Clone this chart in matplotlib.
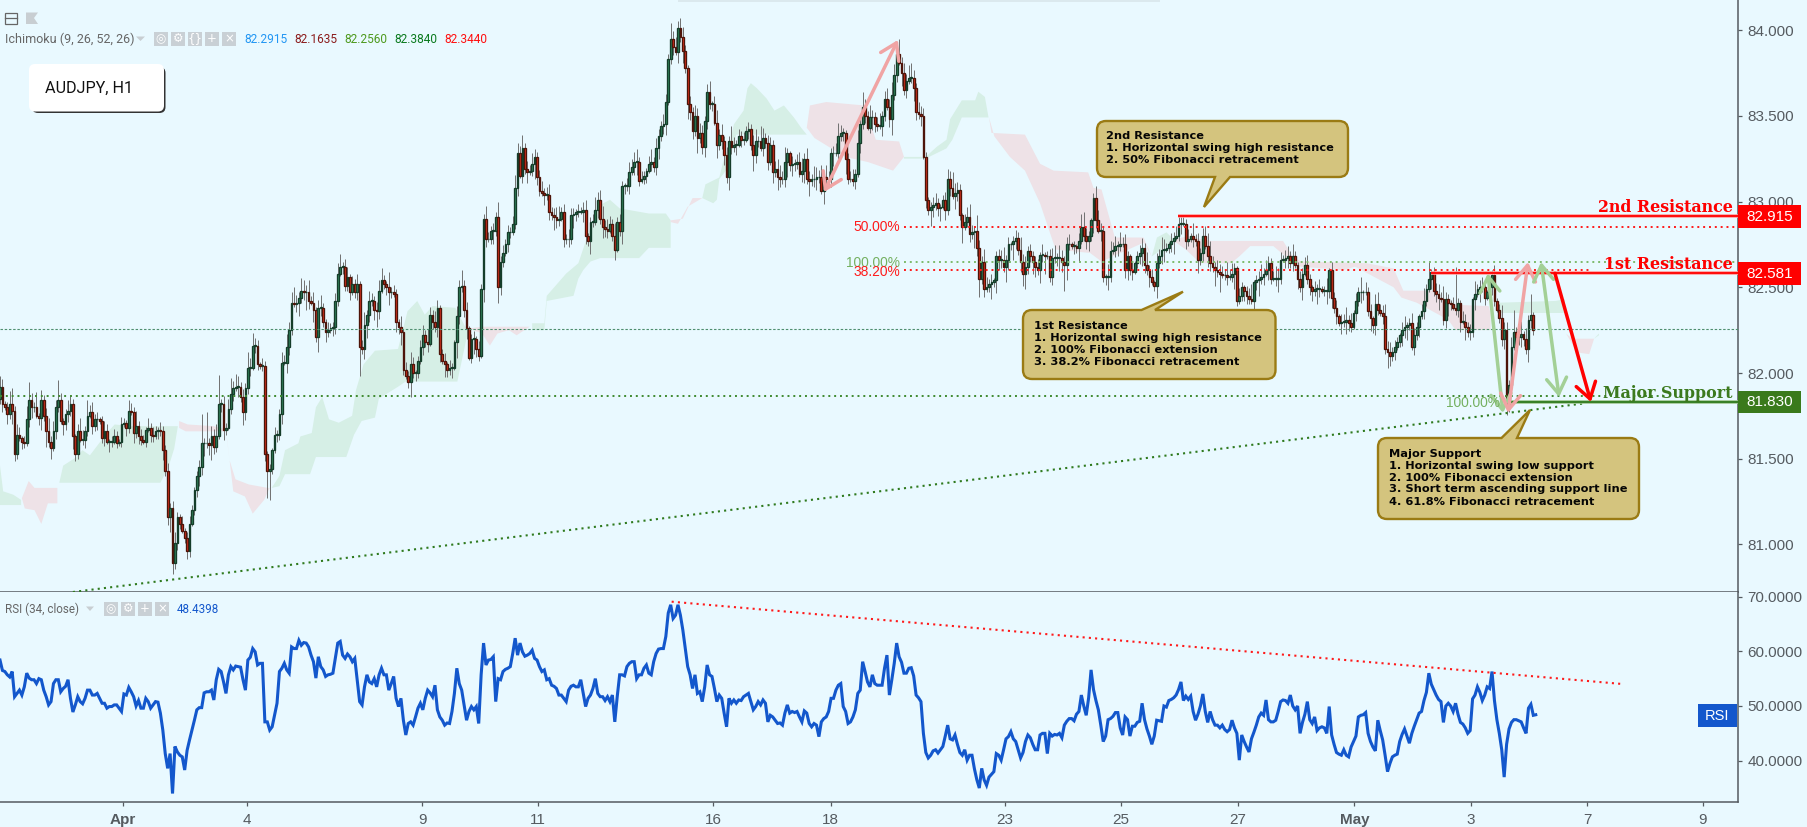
import matplotlib
matplotlib.use("Agg")
import matplotlib.pyplot as plt
from matplotlib.path import Path
from matplotlib.patches import PathPatch, Rectangle, FancyBboxPatch

closes = [
81.92,81.82,81.80,81.76,81.82,81.78,81.53,81.64,81.62,81.60,
81.59,81.73,81.84,81.80,81.80,81.75,81.74,81.84,81.75,81.66,
81.60,81.56,81.66,81.80,81.84,81.72,81.70,81.76,81.78,81.82,
81.63,81.53,81.66,81.61,81.61,81.66,81.75,81.77,81.69,81.73,
81.73,81.72,81.62,81.66,81.60,81.60,81.60,81.63,81.59,81.60,
81.70,81.71,81.68,81.78,81.77,81.65,81.69,81.63,81.61,81.60,
81.67,81.68,81.64,81.63,81.66,81.67,81.66,81.55,81.43,81.16,
81.21,80.89,81.01,81.16,81.12,81.08,81.04,80.96,81.12,81.20,
81.32,81.40,81.45,81.59,81.59,81.59,81.58,81.63,81.57,81.63,
81.82,81.82,81.67,81.68,81.79,81.88,81.91,81.92,81.92,81.86,
81.77,81.91,82.03,82.03,82.16,82.16,82.05,82.04,82.04,81.53,
81.43,81.44,81.55,81.64,81.64,81.76,82.06,82.06,82.15,82.25,
82.41,82.40,82.41,82.44,82.48,82.47,82.47,82.42,82.41,82.37,
82.21,82.38,82.38,82.30,82.24,82.25,82.26,82.27,82.42,82.58,
82.62,82.62,82.51,82.56,82.47,82.52,82.47,82.52,82.15,82.14,
82.28,82.34,82.42,82.42,82.37,82.36,82.48,82.54,82.52,82.50,
82.47,82.47,82.46,82.30,82.27,82.24,82.02,81.98,81.95,82.05,
82.00,82.00,82.07,82.15,82.22,82.18,82.17,82.34,82.30,82.27,
82.38,82.11,82.07,82.05,82.02,82.03,82.03,82.18,82.33,82.50,
82.51,82.37,82.26,82.09,82.20,82.20,82.14,82.10,82.49,82.90,
82.78,82.78,82.83,82.83,82.91,82.50,82.65,82.70,82.75,82.82,
82.82,82.87,83.08,83.28,83.15,83.31,83.19,83.17,83.18,83.22,
83.26,83.14,83.06,83.05,83.04,83.04,82.94,82.92,82.91,82.89,
82.90,82.94,82.78,82.78,82.78,82.92,82.93,82.94,82.94,82.94,
82.95,82.80,82.77,82.88,82.88,82.95,83.01,82.90,82.85,82.84,
82.83,82.87,82.80,82.72,82.88,82.83,83.09,83.09,83.09,83.17,
83.20,83.23,83.23,83.12,83.13,83.15,83.18,83.22,83.23,83.20,
83.31,83.38,83.44,83.45,83.58,83.83,83.95,83.90,83.87,84.01,
83.96,83.88,83.78,83.57,83.52,83.41,83.50,83.37,83.40,83.32,
83.47,83.64,83.57,83.57,83.46,83.33,83.39,83.35,83.27,83.14,
83.35,83.32,83.33,83.33,83.38,83.36,83.36,83.41,83.42,83.33,
83.27,83.35,83.35,83.31,83.37,83.34,83.23,83.33,83.17,83.19,
83.14,83.13,83.13,83.23,83.28,83.21,83.22,83.22,83.23,83.16,
83.18,83.25,83.13,83.12,83.13,83.13,83.14,83.14,83.06,83.14,
83.13,83.13,83.28,83.28,83.28,83.38,83.40,83.40,83.25,83.13,
83.13,83.12,83.16,83.34,83.45,83.55,83.50,83.43,83.49,83.49,
83.45,83.44,83.44,83.50,83.60,83.55,83.48,83.62,83.74,83.86,
83.81,83.75,83.65,83.70,83.72,83.72,83.66,83.52,83.51,83.50,
83.26,83.01,82.95,82.97,82.98,82.99,82.96,82.97,83.01,82.95,
83.13,83.08,83.03,83.05,83.07,82.92,82.85,82.88,82.91,82.81,
82.82,82.83,82.73,82.55,82.65,82.49,82.50,82.52,82.53,82.54,
82.68,82.66,82.66,82.62,82.66,82.75,82.75,82.77,82.79,82.72,
82.65,82.58,82.62,82.71,82.68,82.65,82.62,82.60,82.69,82.69,
82.68,82.68,82.56,82.67,82.67,82.67,82.67,82.65,82.63,82.75,
82.75,82.74,82.74,82.73,82.77,82.85,82.80,82.77,82.80,82.89,
83.02,82.89,82.83,82.83,82.56,82.56,82.56,82.71,82.72,82.74,
82.74,82.75,82.75,82.60,82.68,82.60,82.59,82.64,82.68,82.70,
82.73,82.63,82.60,82.56,82.53,82.51,82.64,82.68,82.72,82.72,
82.73,82.75,82.77,82.79,82.80,82.87,82.87,82.87,82.77,82.78,
82.80,82.78,82.77,82.66,82.70,82.80,82.74,82.68,82.64,82.62,
82.60,82.59,82.58,82.57,82.57,82.56,82.56,82.58,82.61,82.42,
82.45,82.50,82.48,82.45,82.43,82.42,82.53,82.54,82.55,82.56,
82.58,82.60,82.64,82.55,82.55,82.55,82.55,82.66,82.66,82.67,
82.68,82.64,82.68,82.63,82.55,82.50,82.58,82.63,82.55,82.50,
82.48,82.49,82.49,82.49,82.48,82.48,82.48,82.60,82.44,82.38,
82.33,82.29,82.30,82.30,82.31,82.29,82.27,82.35,82.42,82.47,
82.47,82.47,82.47,82.36,82.32,82.28,82.40,82.37,82.35,82.33,
82.14,82.12,82.10,82.12,82.15,82.18,82.22,82.25,82.27,82.28,
82.29,82.15,82.22,82.27,82.33,82.36,82.42,82.49,82.55,82.59,
82.48,82.46,82.44,82.43,82.31,82.43,82.41,82.40,82.38,82.37,
82.41,82.30,82.30,82.27,82.24,82.24,82.43,82.46,82.49,82.50,
82.50,82.44,82.47,82.50,82.57,82.42,82.37,82.32,82.20,82.25,
81.82,81.93,82.15,82.24,82.21,82.21,82.23,82.20,82.14,82.31,
82.34,82.25]

# wick sizes above / below the candle body, in hundredths of a yen
wick_up = [int(c) for c in """
4 3 1 2 5 6 2 4 3 1 2 5 7 3 2 6 1 4 2 3 5 2 4 3 8 3 1 2 4 3 2 1 3 5 4 2 6 3 4 2 3 1 2 4 3 1 2 3 2 1
3 2 1 4 3 2 6 2 3 2 1 4 2 3 2 1 3 2 2 3 2 3 4 2 1 3 1 2 3 2 1 2 3 4 2 3 2 4 3 5 4 2 3 2 4 6 3 5 4 2
3 2 6 4 5 3 2 1 3 2 1 2 1 3 2 2 4 3 5 3 4 6 3 2 5 4 3 5 2 4 1 3 5 2 1 3 2 2 3 4 5 2 3 4 1 3 2 4 1 3
5 2 4 3 2 3 4 5 2 1 6 2 3 2 1 4 1 3 2 5 3 1 2 3 4 2 5 3 2 4 3 1 2 3 1 3 2 1 4 3 6 2 3 1 2 3 1 3 2 2
5 3 2 3 2 6 2 3 2 3 2 3 5 4 3 5 2 3 2 4 3 2 3 4 2 3 4 2 3 4 5 2 3 2 4 3 2 1 3 2 3 4 1 2 3 5 3 4 5 3
4 3 2 5 2 3 2 1 3 4 3 4 5 2 3 2 1 3 5 2 4 3 2 4 3 2 6 3 4 3 5 4 2 1 3 2 4 3 4 3 2 3 4 1 3 5 2 4 2 3
2 6 3 2 3 2 3 2 3 2 4 5 2 6 4 2 3 3 2 3 4 5 3 6 2 1 3 2 3 4 5 2 4 3 2 5 4 3 5 2 5 3 2 3 4 5 3 2 1 2
3 4 2 5 2 6 3 2 5 3 2 3 5 2 3 4 3 5 4 2 6 2 4 3 5 6 3 2 4 3 3 2 1 2 3 4 2 1 2 3 4 3 6 4 3 2 1 3 4 5
3 2 6 3 2 5 4 2 3 1 2 3 4 5 2 3 1 2 3 2 5 3 4 2 3 2 2 3 1 4 1 2 3 4 5 2 5 3 2 3 4 1 2 1 3 5 6 3 2 1
2 3 4 3 2 1 5 4 3 4 2 5 3 4 2 1 3 1 2 3 4 2 5 2 3 1 4 3 5 4 2 1 3 2 4 3 6 3 2 4 1 5 2 3 2 3 4 5 6 3
2 4 3 3 2 5 3 4 2 1 3 2 1 2 3 6 1 2 3 5 2 4 3 2 3 5 4 3 2 3 4 2 5 2 1 3 2 3 4 2 1 3 2 4 1 2 5 1 3 2
3 1 3 3 5 2 4 1 3 2 6 1 4 2 3 1 4 5 2 3 5 3 4 2 3 2 1 3 4 1 2 4 3 2 1 3 5 2 3 1 2 3 4 2 5 3 2 1 3 6
2 1 4 3 2 3 1 5 2 3 4 2 1 3 2 4 1 2 5 3 3 2 4 1 2 3 5 1 4 2 3 1 2 5 3 1 2
""".split()]
wick_dn = [int(c) for c in """
2 3 1 4 2 5 3 2 1 3 2 1 3 4 2 1 3 5 2 6 2 4 1 3 2 1 4 2 3 2 5 3 2 1 2 3 2 1 3 2 4 1 2 3 1 4 2 1 2 1
2 1 3 2 1 4 2 3 2 1 2 1 3 2 1 3 2 4 2 3 6 5 2 3 2 1 2 3 2 1 2 3 4 3 5 2 4 6 3 2 1 3 4 2 1 2 3 1 4 2
5 3 2 3 1 3 2 1 2 3 2 3 2 1 3 2 4 1 6 3 2 1 3 5 2 3 7 3 1 5 2 6 3 2 4 2 1 3 3 2 1 3 2 2 3 1 2 3 1 2
4 5 3 2 4 6 3 1 2 3 5 2 1 4 3 5 2 1 4 6 2 3 2 1 3 2 3 1 3 2 4 3 1 5 3 2 4 1 6 3 2 3 4 1 2 6 3 2 1 5
3 1 2 5 2 6 3 2 1 3 2 1 2 3 1 3 2 4 1 2 6 3 2 1 4 2 3 2 5 3 2 1 3 2 3 2 5 3 2 1 4 3 2 5 2 1 3 2 4 3
3 1 2 4 1 2 5 3 2 3 1 3 5 2 1 2 3 1 3 2 3 4 2 3 4 1 2 3 1 4 2 5 2 6 3 3 2 6 2 3 4 3 2 3 1 5 2 3 4 2
5 3 2 4 1 3 2 1 3 2 6 3 2 1 3 2 3 1 4 2 5 3 2 3 6 2 4 3 2 1 3 5 2 6 2 3 4 2 1 5 3 2 3 5 1 4 2 3 6 2
1 2 3 1 4 2 3 1 2 5 3 2 1 4 2 1 3 6 2 3 1 5 2 3 1 2 5 3 2 4 1 3 2 6 4 2 3 5 1 4 2 3 1 5 3 2 6 1 2 3
2 6 3 7 2 3 1 2 1 2 5 4 3 2 6 4 2 6 3 2 4 5 6 3 2 5 4 2 5 3 7 1 2 3 2 3 5 4 3 6 2 1 3 2 5 1 2 3 4 2
5 3 1 4 2 3 5 2 1 3 4 2 1 3 4 2 3 1 2 3 5 3 2 4 1 2 5 2 3 5 1 2 3 5 1 2 4 1 3 2 1 3 2 5 2 3 1 4 3 2
6 2 7 1 2 3 1 2 6 2 1 2 4 3 2 1 4 3 6 2 3 1 4 2 1 3 5 2 1 3 4 2 3 1 4 2 5 1 2 3 4 2 6 3 1 2 5 3 4 2
3 1 4 2 5 3 2 1 3 2 4 3 1 2 5 3 4 2 1 3 2 6 4 2 3 1 2 4 3 5 2 1 3 2 4 1 3 2 1 4 2 3 5 1 2 3 5 2 1 2
3 4 1 5 2 3 2 4 1 5 2 3 1 4 3 2 1 2 3 4 1 3 2 1 2 3 4 3 2 5 3 2 3 2 1 3 2
""".split()]
long_highs = {90: 81.99, 83: 81.76, 85: 81.77, 280: 84.07, 451: 83.09, 486: 82.92, 588: 82.65, 599: 82.62, 623: 82.37, 630: 82.46}
long_lows = {110: 81.27, 111: 81.26, 148: 81.98, 118: 82.00, 168: 81.91, 71: 80.83, 438: 82.48, 408: 82.43, 320: 83.07, 620: 81.755}

rsi = [
58.4,56.5,56.3,55.7,55.3,56.3,51.7,52.3,52.9,52.0,53.5,56.0,55.1,54.8,54.8,54.1,55.0,54.8,52.9,51.7,
50.2,50.8,54.1,54.8,54.8,52.6,53.2,53.6,54.8,51.4,48.9,50.2,51.7,50.8,50.4,51.4,52.9,52.9,52.0,52.0,
52.3,51.4,50.5,50.5,49.6,49.9,49.9,50.2,50.2,49.6,49.0,52.2,52.0,53.4,52.6,51.7,50.0,51.0,49.6,49.6,
51.4,50.8,49.6,50.2,50.8,50.7,48.7,45.6,41.3,38.6,41.3,34.0,42.6,41.6,41.0,40.7,38.3,41.9,43.8,45.6,
47.4,49.3,49.7,49.7,52.4,52.6,52.6,52.9,51.1,54.8,56.7,56.3,54.4,52.3,55.7,57.2,56.6,57.3,57.2,57.1,
54.8,52.9,58.4,58.9,60.5,59.9,57.5,57.8,57.8,47.1,47.1,45.6,46.2,48.4,50.5,56.3,56.9,57.8,56.6,56.0,
60.8,60.5,60.5,62.0,61.1,61.6,61.5,60.8,59.3,58.1,55.1,59.0,57.2,56.6,55.4,55.7,55.8,56.0,58.7,61.5,
61.8,59.3,58.7,59.5,59.0,58.1,58.7,54.8,50.8,50.2,53.5,55.7,54.4,54.1,55.0,53.5,55.7,56.9,55.7,55.7,
52.9,54.1,55.4,51.4,49.9,51.4,47.4,44.7,46.8,47.1,46.5,48.0,49.6,50.5,49.3,51.4,52.9,52.4,51.7,53.8,
49.3,48.0,47.4,46.5,46.9,46.8,49.0,52.3,56.9,54.1,52.9,50.2,47.4,49.0,49.9,49.3,49.9,46.8,55.7,61.5,
57.5,58.4,58.5,59.0,50.8,55.0,54.8,56.3,56.7,56.9,57.2,59.6,62.4,59.3,61.5,59.9,59.1,59.3,59.6,60.2,
58.7,58.4,57.2,56.3,56.6,54.8,55.0,53.8,53.6,53.2,52.0,52.0,51.4,50.8,52.9,53.6,53.8,53.5,53.5,54.8,
52.3,49.9,51.4,52.0,53.2,55.0,52.3,51.7,51.7,51.0,51.7,50.8,52.0,47.1,51.7,55.7,55.7,55.5,57.2,57.8,
58.1,58.1,55.0,55.7,55.7,56.9,57.5,56.0,55.7,58.1,59.6,60.4,60.5,60.5,62.7,67.0,68.5,66.0,66.6,68.5,
66.6,63.9,60.5,57.2,55.7,53.2,55.7,52.3,52.6,50.8,53.5,57.5,55.7,55.4,53.2,50.8,52.0,51.4,48.7,46.2,
51.4,50.5,51.1,50.5,51.1,51.0,51.7,52.0,52.3,50.8,49.3,49.9,50.8,50.2,51.1,50.5,47.1,48.3,48.0,47.4,
46.8,46.9,46.5,48.7,50.2,48.7,49.0,48.8,49.0,48.0,47.1,49.1,48.7,46.8,46.2,46.8,46.5,44.4,47.1,47.7,
48.0,49.0,51.4,51.4,52.9,53.8,54.1,49.9,49.0,46.8,47.1,48.0,49.3,52.3,52.9,58.1,56.3,54.4,53.5,55.7,
54.1,53.8,53.8,53.8,56.9,59.3,52.0,54.8,57.8,61.5,59.0,58.0,56.0,56.0,56.9,57.0,55.5,52.0,51.5,50.8,
45.0,41.5,40.5,41.0,41.8,42.0,41.4,42.0,42.6,44.5,46.5,44.0,43.8,44.7,43.0,41.5,41.0,42.0,40.1,41.0,
41.0,38.5,36.5,35.0,38.6,36.5,35.5,37.0,37.5,38.0,41.3,41.0,40.1,42.0,44.0,44.4,45.3,44.0,43.5,42.0,
40.5,41.5,43.5,44.7,44.2,43.0,42.0,42.0,44.7,45.0,45.0,41.3,45.0,44.5,44.8,44.7,45.0,44.2,46.5,47.2,
47.7,47.7,47.3,48.5,49.0,52.0,50.0,48.3,51.5,56.6,53.0,51.0,49.3,46.5,43.5,44.5,47.5,47.7,48.1,48.8,
48.8,46.0,44.7,48.0,47.5,44.5,46.3,46.3,47.0,47.2,50.5,47.5,45.8,44.5,43.0,44.5,47.4,47.3,47.2,50.0,
49.8,51.0,51.2,51.5,52.0,53.0,54.4,51.0,51.8,51.2,51.8,49.0,47.4,48.5,50.0,52.2,49.0,47.0,49.0,47.5,
46.5,46.5,46.0,46.5,45.7,45.3,45.7,47.4,46.0,45.0,40.1,44.7,43.5,42.5,41.6,44.0,45.2,46.5,48.0,48.7,
48.3,51.1,47.5,47.1,47.1,47.4,49.0,50.8,51.1,51.0,50.5,52.0,50.0,49.3,50.0,45.0,47.0,48.5,50.8,47.5,
46.8,48.0,45.5,46.0,46.2,46.0,45.0,49.9,44.7,43.0,41.5,41.2,41.0,42.0,41.0,40.7,42.5,43.5,44.5,48.0,
48.3,48.4,48.8,45.0,43.5,42.5,41.8,47.4,45.5,43.8,41.0,38.0,39.5,40.7,41.0,41.2,43.5,44.8,45.8,44.5,
43.2,45.0,46.3,47.5,48.7,49.0,51.0,52.5,56.0,54.0,53.0,52.0,51.2,50.8,47.0,50.0,50.5,50.0,49.0,50.5,
48.5,47.0,46.7,46.0,45.0,45.5,51.3,52.0,53.5,52.5,51.0,52.0,53.5,53.2,56.3,51.0,47.5,45.0,42.0,37.0,
43.0,45.8,47.0,47.5,47.5,47.3,47.1,46.0,45.0,49.6,50.3,48.3,48.4]

price_ticks = [81, 81.5, 82, 82.5, 83, 83.5, 84]
rsi_ticks = [40, 50, 60, 70]
date_ticks = [50.6, 101.6, 173.7, 221.4, 293.6, 341.8, 413.6, 461.3, 509.3, 557.4, 605.3, 653.1, 700.7]
date_labels = ["Apr", "4", "9", "11", "16", "18", "23", "25", "27", "May", "3", "7", "9"]

# Kumo: (kind, bar positions, upper edge, bar positions, lower edge)
kumo = [
 ("g", [0,1.3,5.5,8.7], [81.46,81.31,81.29,81.26], [0,8.7], [81.23,81.23]),
 ("r", [9,11.8,14.2,23.6], [81.27,81.37,81.33,81.33], [9,10.2,14.2,17,19.7,23.6], [81.27,81.21,81.20,81.12,81.24,81.24]),
 ("g", [24.4,26,31.5,33.9,37,44,47.2,53.5,66,73.2], [81.36,81.46,81.51,81.55,81.52,81.65,81.70,81.69,81.69,81.69],
       [24.4,66,69.3,71.7,73.2], [81.36,81.36,81.45,81.56,81.69]),
 ("r", [73.7,77.2,88,93,94.5,96.9,102.4,110.2], [81.72,81.70,81.69,81.67,81.49,81.38,81.35,81.33],
       [73.7,76.4,93,94.5,96,100.8,104,108.7,111], [81.68,81.66,81.66,81.49,81.31,81.28,81.18,81.26,81.33]),
 ("g", [111.8,115,117.3,122.8,123.6,128.3,130,132.6,135.4,139.4,144.9,146.5,149.6,154.3,163.8,167.7,171.7,174.8,178,187.4,191.8],
       [81.33,81.40,81.55,81.59,81.63,81.65,81.80,81.86,81.73,81.71,81.75,81.90,82.05,82.13,82.14,82.36,82.42,82.34,82.39,82.38,82.26],
       [111.8,115,117.3,127.6,130,142.5,145.7,148.8,154.3,155.9,163.8,166.9,188.2,191.8,192.9],
       [81.33,81.34,81.41,81.41,81.51,81.51,81.64,81.72,81.74,81.85,81.92,81.95,81.95,82.19,82.26]),
 ("r", [192.9,198.4,218], [82.26,82.27,82.27], [192.9,198.4,201.6,204.7,209.4,212.6,218], [82.26,82.23,82.16,82.23,82.25,82.22,82.27]),
 ("g", [219,224,225,233,238,243,247,251,255,267,274,276], [82.29,82.29,82.45,82.58,82.64,82.85,82.98,83.01,82.96,82.93,82.93,82.89],
       [219,224,225,236,238,240,243,247,263,267,276], [82.25,82.25,82.42,82.45,82.55,82.60,82.65,82.67,82.67,82.73,82.73]),
 ("r", [276,281,285,289], [82.89,82.90,83.02,83.02], [276,279,283,289], [82.88,82.87,82.97,83.02]),
 ("g", [289,290.3,296,297.4,300.5,302,306,307.6,309,311.5,315.5,318.7,322.6,326.7,329.7,332],
       [83.02,83.10,83.14,83.22,83.35,83.45,83.53,83.66,83.69,83.66,83.60,83.53,83.56,83.49,83.43,83.39],
       [289,293.5,295,296,299.8,302,303,332], [83.02,82.99,83.01,83.13,83.20,83.34,83.39,83.39]),
 ("r", [332,333.3,340,355.7,360.4,370,372], [83.43,83.56,83.58,83.56,83.36,83.35,83.26],
       [332,335.2,347.8,357.2,367.5,372], [83.43,83.37,83.26,83.23,83.18,83.26]),
 ("g", [372,380.9,385.6,389.5,391,395.8,401.3,402.6,405.3,406.8], [83.26,83.26,83.32,83.36,83.48,83.59,83.59,83.64,83.61,83.49],
       [372,380.9,389.5,391.9,395.8,406.8], [83.25,83.25,83.31,83.36,83.49,83.49]),
 ("r", [407,408,421.8,428,433.6,447.8,450,453.3,458.8,470.6,474], [83.49,83.40,83.39,83.22,83.18,83.17,83.08,83.07,82.79,82.79,82.68],
       [407,409.2,415.6,421.8,428,434.4,448.6,453.3,470.6,474], [83.49,83.38,83.26,83.18,82.99,82.72,82.70,82.65,82.76,82.68]),
 ("g", [474,476.1,480,483], [82.68,82.79,82.82,82.78], [474,483], [82.68,82.77]),
 ("r", [483,490,494,498.6,528,532,535.3,562.4,573.5,577.5,589.5,595,612.6,613.4],
       [82.78,82.80,82.78,82.77,82.77,82.68,82.65,82.64,82.61,82.48,82.48,82.40,82.39,82.35],
       [483,488,494,506.6,510,514.5,524,529,535.3,552.8,557.6,573.5,576.7,583,596,599,613.4],
       [82.77,82.72,82.64,82.64,82.68,82.74,82.74,82.68,82.62,82.60,82.62,82.50,82.44,82.41,82.31,82.25,82.25]),
 ("g", [617,640,644], [82.41,82.42,82.43], [617,644], [82.35,82.35]),
 ("r", [644.5,647,656], [82.23,82.20,82.20], [644.5,649,654,656], [82.23,82.12,82.11,82.20]),
 ("g", [656,658], [82.20,82.23], [656,658], [82.20,82.22]),
]

BG = "#e9f9ff"
GREY = "#555b60"
FW, FH = 1808, 827
AX_R, MAIN_B, RSI_B = 1738, 592, 802
plt.rcParams["font.family"] = ["Liberation Sans", "DejaVu Sans"]
fig = plt.figure(figsize=(FW/100, FH/100), dpi=100, facecolor=BG)
ax = fig.add_axes([0, 1-MAIN_B/FH, AX_R/FW, MAIN_B/FH], facecolor=BG)
ar = fig.add_axes([0, 1-RSI_B/FH, AX_R/FW, (RSI_B-MAIN_B)/FH], facecolor=BG)
ov = fig.add_axes([0, 0, 1, 1], facecolor="none", zorder=20)
ov.set_xlim(0, FW); ov.set_ylim(FH, 0); ov.axis("off")

XMAX = AX_R/2.43
ax.set_xlim(0, XMAX); ax.set_ylim(80.723, 84.175)
ar.set_xlim(0, XMAX); ar.set_ylim(32.45, 70.84)

# cloud
for kind, xt, yt, xb, yb in kumo:
    col = "#d6efe6" if kind == "g" else "#eee2e7"
    ax.fill(list(xt)+list(xb)[::-1], list(yt)+list(yb)[::-1], color=col, lw=0, zorder=1)

# candles
n = len(closes)
for i in range(n):
    c = closes[i]
    o = closes[i-1] if i else 81.85
    up = c >= o
    hi = max(o, c) + wick_up[i % len(wick_up)]*0.015
    lo = min(o, c) - wick_dn[i % len(wick_dn)]*0.015
    hi = long_highs.get(i, hi); lo = long_lows.get(i, lo)
    ax.vlines(i, lo, hi, color="#707070", lw=0.7, zorder=2)
    ax.bar(i, max(abs(c-o), 0.004), bottom=min(o, c), width=0.72,
           color="#35875f" if up else "#e2341f", edgecolor="#153d2a" if up else "#4d1409",
           linewidth=0.95, zorder=3)

DOT = (0, (1, 2))
xp = lambda px: px/2.43
ax.hlines(82.255, 0, XMAX, color="#4f8f6f", lw=0.8, ls=(0, (2.2, 1.6)), zorder=4)
ax.hlines(81.864, 0, xp(1665), color="#3f8a30", lw=1.4, ls=DOT, zorder=4)
ax.plot([30, 652], [80.723, 81.823], color="#2f7a1e", lw=1.5, ls=DOT, zorder=4)
ax.hlines(82.853, 372, XMAX, color="#ff1a1a", lw=1.4, ls=DOT, zorder=4)
ax.hlines(82.645, 372, XMAX, color="#7ebb6c", lw=1.4, ls=DOT, zorder=4)
ax.hlines(82.600, 372, xp(1590), color="#ff1a1a", lw=1.4, ls=DOT, zorder=4)
for y0, x0, col, halo in [(82.915, 484.8, "#ff0000", "#ff9a9a"), (82.581, 589, "#ff0000", "#ff9a9a"), (81.830, 620.6, "#2f7a1e", "#9bc48f")]:
    ax.hlines(y0, x0, XMAX, color=halo, lw=2.6, zorder=5)
    ax.hlines(y0, x0, XMAX, color=col, lw=1.3, zorder=6)

# arrows
def arrow(p0, p1, col, style):
    ax.annotate("", xy=p1, xytext=p0, zorder=7, annotation_clip=False,
                arrowprops=dict(arrowstyle=f"{style},head_length=0.7,head_width=0.45", color=col, lw=2.5,
                                shrinkA=0, shrinkB=0, mutation_scale=16))
arrow((339.1, 83.055), (369.5, 83.942), "#f0a4a4", "<->")
arrow((612.3, 82.581), (618.5, 81.767), "#a3d096", "<->")
arrow((620.6, 81.767), (628.8, 82.647), "#f0a4a4", "<->")
arrow((634.2, 82.647), (641.6, 81.860), "#a3d096", "<->")
arrow((639.9, 82.581), (654.7, 81.831), "#ff0000", "->")

# RSI
ar.plot(range(len(rsi)), rsi, color="#1357cc", lw=2.2, solid_joinstyle="miter", zorder=3)
ar.plot([276.4, 668.2], [69.07, 54.0], color="#ff1a1a", lw=1.5, ls=DOT, zorder=4)

for a in (ax, ar):
    a.yaxis.tick_right()
    for s in ("left", "top"):
        a.spines[s].set_visible(False)
    for s in ("right", "bottom"):
        a.spines[s].set_color(GREY); a.spines[s].set_linewidth(1.1)
    a.tick_params(axis="y", length=3.2, width=0.9, color=GREY, labelcolor=GREY, labelsize=11, pad=3.4)
ax.set_yticks(price_ticks, [f"{v:.3f}" for v in price_ticks])
ax.set_xticks([])
ar.set_yticks(rsi_ticks, [f"{v:.4f}" for v in rsi_ticks])
ar.set_xticks(date_ticks, date_labels)
ar.tick_params(axis="x", length=3.2, width=0.9, color=GREY, labelcolor=GREY, labelsize=11, pad=4.5)
for t in ar.get_xticklabels():
    if t.get_text() in ("Apr", "May"):
        t.set_fontweight("bold")

# callouts, in picture pixels
def callout(x0, y0, x1, y1, base_a, base_b, tip, side):
    r = 9
    V, C = [], []
    def mv(p): V.append(p); C.append(Path.MOVETO)
    def ln(p): V.append(p); C.append(Path.LINETO)
    def cv(c, p): V.extend([c, p]); C.extend([Path.CURVE3, Path.CURVE3])
    mv((x0+r, y0))
    if side == "top":
        ln((base_a, y0)); ln(tip); ln((base_b, y0))
    ln((x1-r, y0)); cv((x1, y0), (x1, y0+r)); ln((x1, y1-r)); cv((x1, y1), (x1-r, y1))
    if side == "bottom":
        ln((base_b, y1)); ln(tip); ln((base_a, y1))
    ln((x0+r, y1)); cv((x0, y1), (x0, y1-r)); ln((x0, y0+r)); cv((x0, y0), (x0+r, y0))
    C.append(Path.CLOSEPOLY); V.append((x0+r, y0))
    ov.add_patch(PathPatch(Path(V, C), fc="#d4c47e", ec="#9a7b14", lw=1.7, zorder=5))

TXT = dict(family="DejaVu Sans", fontweight="bold", fontsize=8.2, color="#050505", va="center", ha="left", zorder=6)
callout(1097, 121, 1348, 177, 1215, 1230, (1204, 207), "bottom")
for y, s in zip([136, 148.3, 160.3], ["2nd Resistance", "1. Horizontal swing high resistance", "2. 50% Fibonacci retracement"]):
    ov.text(1106, y, s, **TXT)
callout(1023, 310, 1275.5, 379, 1141.5, 1155, (1183, 291.7), "top")
for y, s in zip([325.7, 337.7, 349.7, 361.7], ["1st Resistance", "1. Horizontal swing high resistance", "2. 100% Fibonacci extension", "3. 38.2% Fibonacci retracement"]):
    ov.text(1033.6, y, s, **TXT)
callout(1378, 438, 1639, 519, 1501.5, 1517, (1530, 410), "top")
for y, s in zip([453.7, 465.7, 477.7, 489.3, 501.7], ["Major Support", "1. Horizontal swing low support", "2. 100% Fibonacci extension", "3. Short term ascending support line", "4. 61.8% Fibonacci retracement"]):
    ov.text(1389, y, s, **TXT)

# fib labels
for y, s, col, xr in [(227, "50.00%", "#ff1a1a", 900.4), (263, "100.00%", "#74b060", 900.4),
                      (271.7, "38.20%", "#ff1a1a", 900.4), (403, "100.00%", "#74b060", 1500)]:
    ov.text(xr, y, s, color=col, fontsize=9.9, ha="right", va="center", zorder=4)

# level labels
for y, s, col in [(207, "2nd Resistance", "#ff0000"), (264.7, "1st Resistance", "#ff0000"), (393, "Major Support", "#3c7a1e")]:
    ov.text(1733, y, s, color=col, family="DejaVu Serif", fontweight="bold", fontsize=11.4, ha="right", va="center", zorder=4)

# price badges
for y0, y1, s, col in [(205, 227.7, "82.915", "#ff0000"), (262.3, 285, "82.581", "#ff0000"), (390.7, 413.3, "81.830", "#3a7a1c")]:
    ov.add_patch(Rectangle((1738, y0), 62.8, y1-y0, fc=col, ec="none", zorder=5))
    ov.text(1769.5, (y0+y1)/2+0.3, s, color="white", fontsize=11, ha="center", va="center", zorder=6)
ov.add_patch(Rectangle((1698, 704), 39, 22.7, fc="#1357cc", ec="none", zorder=5))
ov.text(1717.5, 715.5, "RSI", color="white", fontsize=10.5, ha="center", va="center", zorder=6)

# symbol box
ov.add_patch(FancyBboxPatch((32, 67), 133.5, 46, boxstyle="round,pad=0,rounding_size=6", fc="#333", ec="none", zorder=3))
ov.add_patch(FancyBboxPatch((29, 64), 135, 47.5, boxstyle="round,pad=0,rounding_size=6", fc="white", ec="none", zorder=4))
ov.text(45, 88.7, "AUDJPY, H1", color="#111", fontsize=11.6, family="Roboto", ha="left", va="center", zorder=5)

# pane headers
ov.add_patch(Rectangle((5, 12.5), 12, 11.5, fc="none", ec="#666", lw=0.9))
ov.plot([5, 17], [18.2, 18.2], color="#666", lw=0.9)
ov.fill([26, 38, 34, 38, 26], [12.5, 12.5, 18, 24, 24], color="#c8ced2", lw=0)
ICON = "#c9d0d5"
ov.text(5, 39, "Ichimoku (9, 26, 52, 26)", color="#666", fontsize=9.0, family="Roboto", va="center", ha="left")
ov.fill([136, 145, 140.5], [36.5, 36.5, 41], color="#c8ced2", lw=0)
for x0, g in zip([154, 171, 188, 205, 222], ["◎", "⚙", "{}", "+", "×"]):
    ov.add_patch(Rectangle((x0, 32), 14, 14, fc=ICON, ec="none"))
    ov.text(x0+7, 39, g, color="white", fontsize=8.5, family="DejaVu Sans", ha="center", va="center")
for x0, s, col in [(244, "82.2915", "#2196f3"), (294, "82.1635", "#8b1c1c"), (344, "82.2560", "#4e9a1e"),
                   (394, "82.3840", "#0b7a1e"), (444, "82.3440", "#ff1010")]:
    ov.text(x0, 39.5, s, color=col, fontsize=8.6, family="Roboto", va="center", ha="left")
ov.text(5, 609, "RSI (34, close)", color="#666", fontsize=8.4, family="Roboto", va="center", ha="left")
ov.fill([86, 94, 90], [606.5, 606.5, 611], color="#c8ced2", lw=0)
for x0, g in zip([104, 121, 138, 155], ["◎", "⚙", "+", "×"]):
    ov.add_patch(Rectangle((x0, 601.5), 14, 14, fc=ICON, ec="none"))
    ov.text(x0+7, 608.5, g, color="white", fontsize=8.5, family="DejaVu Sans", ha="center", va="center")
ov.text(177, 609.5, "48.4398", color="#1357cc", fontsize=8.4, family="Roboto", va="center", ha="left")
ov.add_patch(Rectangle((678, 0), 482, 1.6, fc="#dbe9ee", ec="none"))

fig.savefig("out.png", dpi=100, facecolor=BG)
